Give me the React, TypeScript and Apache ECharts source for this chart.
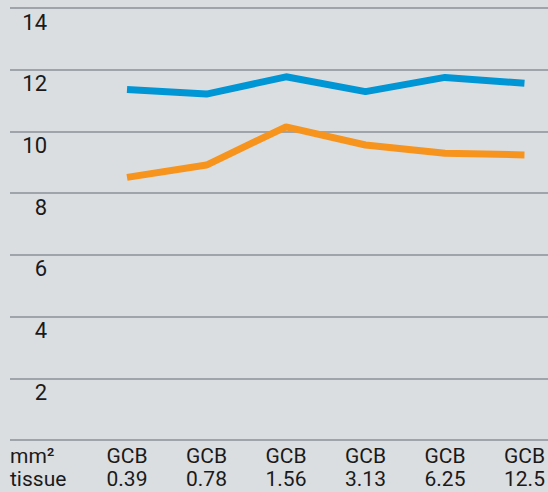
import React, { useEffect, useRef } from "react";
import * as echarts from "echarts";

const categories = ["GCB\n0.39", "GCB\n0.78", "GCB\n1.56", "GCB\n3.13", "GCB\n6.25", "GCB\n12.5"];
const blueValues = [11.36, 11.21, 11.77, 11.29, 11.75, 11.56];
const orangeValues = [8.51, 8.91, 10.15, 9.56, 9.29, 9.24];
const yTicks = [0, 2, 4, 6, 8, 10, 12, 14];
const unitLabel = "mm²\ntissue";

export default function App() {
  const ref = useRef<HTMLDivElement>(null);
  useEffect(() => {
    if (!ref.current) return;
    const chart = echarts.init(ref.current, null, { renderer: "svg" });
    const font = "Roboto";
    chart.setOption({
      animation: false,
      backgroundColor: "#dbdee1",
      textStyle: { fontFamily: font },
      grid: [
        { left: 10, right: 0, top: 8, bottom: 52, containLabel: false },
        { left: 127, right: 17, top: 8, bottom: 52, containLabel: false },
      ],
      xAxis: [
        { gridIndex: 0, type: "value", min: 0, max: 1, show: false },
        {
          gridIndex: 1,
          type: "category",
          data: categories,
          boundaryGap: false,
          axisLine: { show: false },
          axisTick: { show: false },
          axisLabel: {
            color: "#1a1a1a",
            fontFamily: font,
            fontSize: 21,
            lineHeight: 23,
            margin: 4,
            interval: 0,
          },
        },
      ],
      yAxis: [
        {
          gridIndex: 0,
          type: "value",
          min: yTicks[0],
          max: yTicks[yTicks.length - 1],
          interval: 2,
          axisLine: { show: false },
          axisTick: { show: false },
          splitLine: { show: true, lineStyle: { color: "#9fa4aa", width: 2 } },
          axisLabel: {
            inside: true,
            align: "right",
            verticalAlign: "top",
            margin: 37,
            padding: [3, 0, 0, 0],
            color: "#1a1a1a",
            fontFamily: font,
            fontSize: 22,
            formatter: (v: number) => (v === 0 ? "" : String(v)),
          },
        },
        {
          gridIndex: 1,
          type: "value",
          min: yTicks[0],
          max: yTicks[yTicks.length - 1],
          show: false,
        },
      ],
      series: [
        {
          type: "line",
          xAxisIndex: 1,
          yAxisIndex: 1,
          data: blueValues,
          symbol: "none",
          lineStyle: { color: "#0096d6", width: 7 },
        },
        {
          type: "line",
          xAxisIndex: 1,
          yAxisIndex: 1,
          data: orangeValues,
          symbol: "none",
          lineStyle: { color: "#f7941d", width: 7 },
        },
      ],
      graphic: [
        {
          type: "text",
          left: 10,
          top: 444,
          style: {
            text: unitLabel,
            fill: "#1a1a1a",
            font: `21px ${font}`,
            lineHeight: 23,
          },
        },
      ],
    });
    return () => chart.dispose();
  }, []);
  return (
    <div
      ref={ref}
      style={{ position: "fixed", left: 0, top: 0, width: 548, height: 492 }}
    />
  );
}
